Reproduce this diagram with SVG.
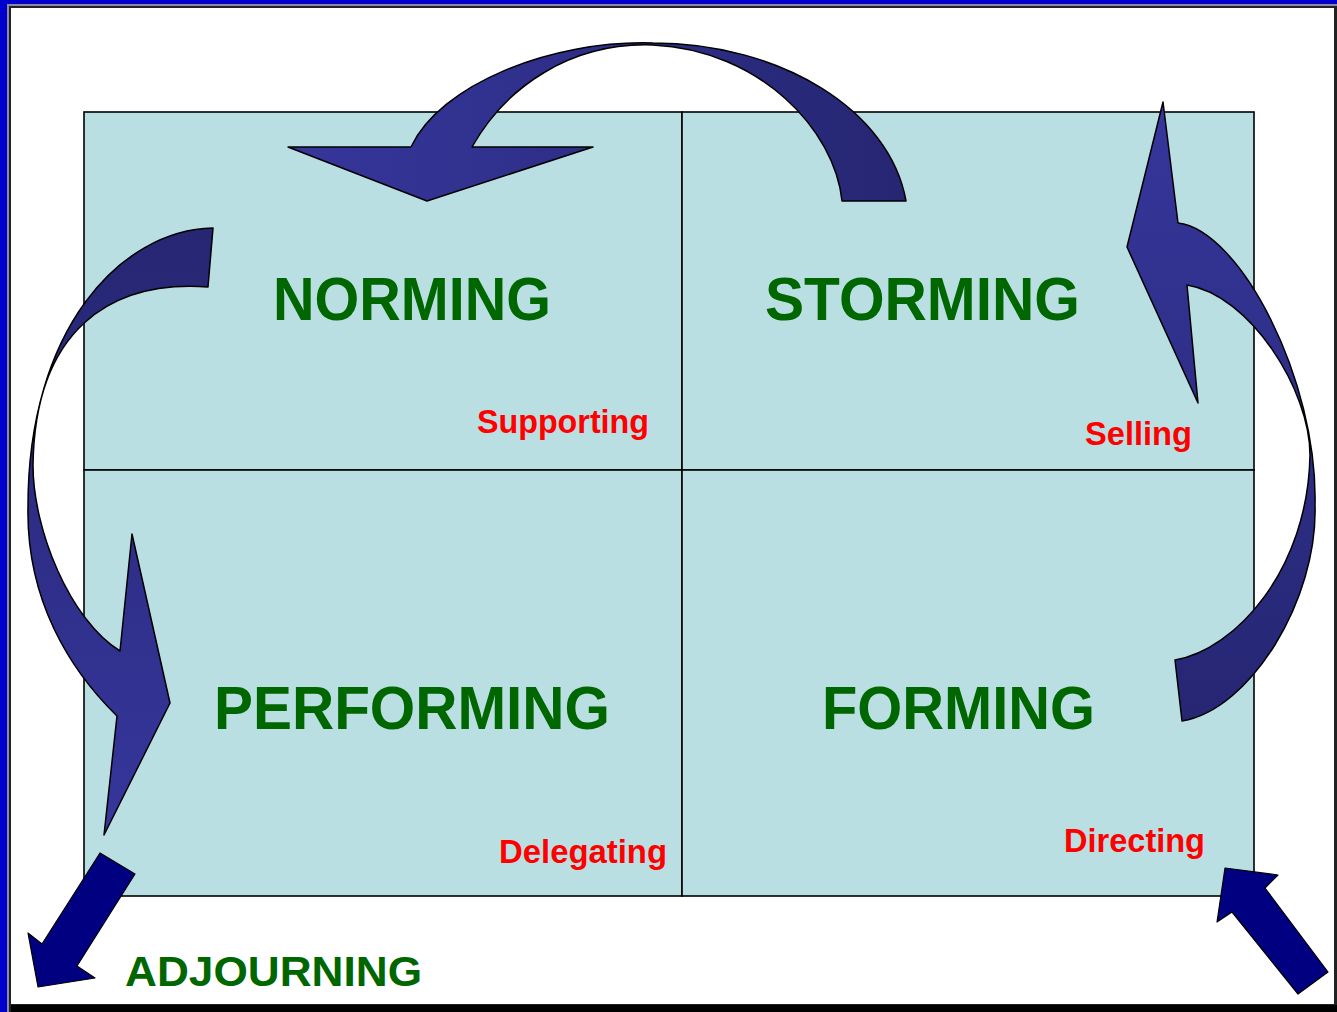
<svg xmlns="http://www.w3.org/2000/svg" width="1337" height="1012" viewBox="0 0 1337 1012">
<style>
.q{fill:#B9DFE2;stroke:#000;stroke-width:1.6}
.big{font-family:"Liberation Sans",Arial,sans-serif;font-weight:bold;fill:#006600}
.lbl{font-family:"Liberation Sans",Arial,sans-serif;font-weight:bold;fill:#FF0000;font-size:33px}
.curve{stroke:#000;stroke-width:1.5;stroke-linejoin:round}
.straight{fill:#000080;stroke:#000;stroke-width:1.2;stroke-linejoin:round}
</style>
<defs>
<linearGradient id="gTop" x1="0" y1="0" x2="1" y2="0"><stop offset="0" stop-color="#36369C"/><stop offset="1" stop-color="#262673"/></linearGradient>
<linearGradient id="gRight" x1="0" y1="0" x2="0" y2="1"><stop offset="0" stop-color="#36369C"/><stop offset="1" stop-color="#262673"/></linearGradient>
<linearGradient id="gLeft" x1="0" y1="0" x2="0" y2="1"><stop offset="0" stop-color="#262673"/><stop offset="1" stop-color="#36369C"/></linearGradient>
</defs>
<g id="frame">
<rect x="0" y="0" width="1337" height="1012" fill="#0000CC"/>
<rect x="7" y="4" width="1330" height="1008" fill="#8A8AA8"/>
<rect x="9" y="6" width="1328" height="1006" fill="#222"/>
<rect x="11" y="8" width="1323" height="996" fill="#FFFFFF"/>
<rect x="11" y="1005" width="1326" height="7" fill="#000"/>
</g>
<g id="norming">
<rect class="q" x="84" y="112" width="598" height="358"/>
<text class="big" x="273" y="320" font-size="62" textLength="278" lengthAdjust="spacingAndGlyphs">NORMING</text>
<text class="lbl" x="477" y="433" textLength="172" lengthAdjust="spacingAndGlyphs">Supporting</text>
</g>
<g id="storming">
<rect class="q" x="682" y="112" width="572" height="358"/>
<text class="big" x="765" y="320" font-size="62" textLength="315" lengthAdjust="spacingAndGlyphs">STORMING</text>
<text class="lbl" x="1085" y="445" textLength="107" lengthAdjust="spacingAndGlyphs">Selling</text>
</g>
<g id="performing">
<rect class="q" x="84" y="470" width="598" height="426"/>
<text class="big" x="214" y="729" font-size="62" textLength="396" lengthAdjust="spacingAndGlyphs">PERFORMING</text>
<text class="lbl" x="499" y="863" textLength="168" lengthAdjust="spacingAndGlyphs">Delegating</text>
</g>
<g id="forming">
<rect class="q" x="682" y="470" width="572" height="426"/>
<text class="big" x="822" y="729" font-size="62" textLength="273" lengthAdjust="spacingAndGlyphs">FORMING</text>
<text class="lbl" x="1064" y="852" textLength="141" lengthAdjust="spacingAndGlyphs">Directing</text>
</g>
<g id="adjourning">
<text class="big" x="125" y="986" font-size="43" textLength="297" lengthAdjust="spacingAndGlyphs">ADJOURNING</text>
</g>
<g id="connectors">
<path id="arrow-storming-norming" class="curve" fill="url(#gTop)" d="M288,147 L411,147 C440,85 550,40 653,43 C780,43 890,110 906,201 L842,201 C835,130 760,50 653,45 C570,42 505,88 472,147 L593,147 L427,201 Z"/>
<path id="arrow-forming-storming" class="curve" fill="url(#gRight)" d="M1163,102 L1178,223 C1240,230 1318,380 1315,505 C1318,600 1250,710 1182,721 L1175,660 C1235,650 1308,570 1310,455 C1310,390 1250,295 1187,285 L1198,403 L1127,247 Z"/>
<path id="arrow-norming-performing" class="curve" fill="url(#gLeft)" d="M213,228 C120,230 28,330 28,506 C26,600 70,670 117,716 L104,835 L170,703 L132,534 L120,651 C70,620 33,530 33,465 C35,330 110,280 208,287 Z"/>
<path id="arrow-performing-adjourning" class="straight" d="M100,853 L135,874 L77,966 L95,978 L38,987 L28,933 L42,944 Z"/>
<path id="arrow-in-forming" class="straight" d="M1225,868 L1278,875 L1265,888 L1328,972 L1298,994 L1232,912 L1217,922 Z"/>
</g>
</svg>
